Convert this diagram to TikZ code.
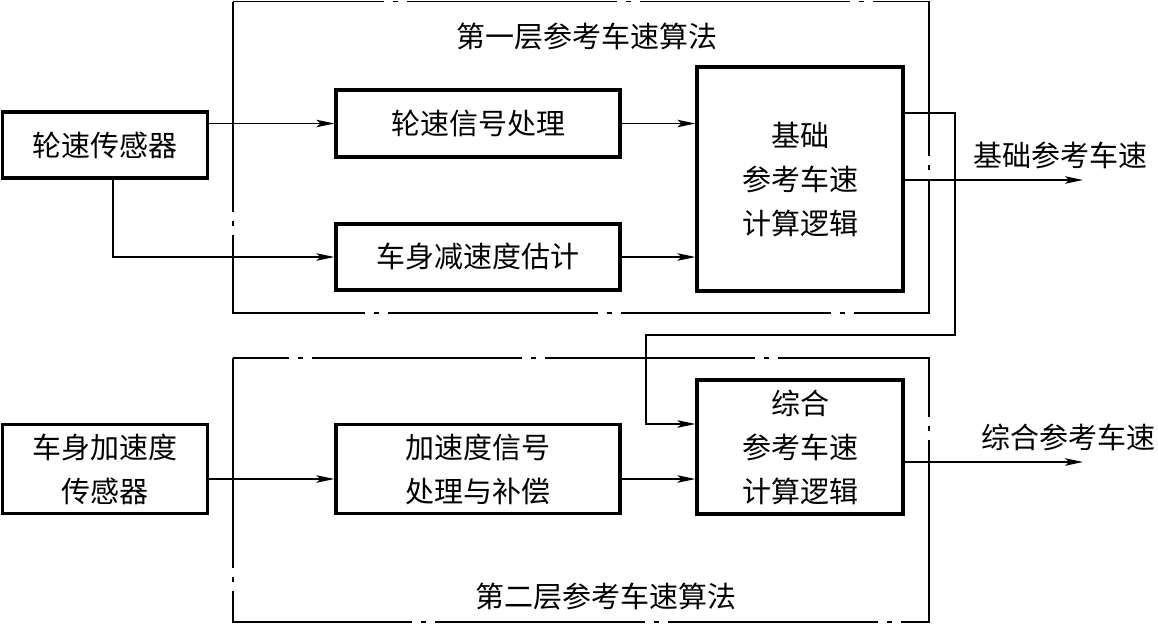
\documentclass[tikz,border=0pt]{standalone}
\usepackage{fontspec}
\newfontfamily\cjk{Noto Sans CJK SC}
\usetikzlibrary{arrows.meta,calc}
\begin{document}
\begin{tikzpicture}[x=1pt,y=-1pt,
  blk/.style={draw,line width=3.2pt,inner sep=0pt,align=center,
    font=\cjk\fontsize{29}{44}\selectfont},
  lbl/.style={inner sep=0pt,font=\cjk\fontsize{29}{44}\selectfont},
  frame/.style={draw,line width=1.4pt,dash pattern=on 210pt off 9pt on 5pt off 9pt},
  arr/.style={line width=1.4pt,-{Stealth[length=18pt,width=7.5pt,inset=4pt]}},
  ln/.style={line width=1.4pt}]
\useasboundingbox (0,0) rectangle (1158,627);
% dash-dot frames
\draw[frame] (233,1.5) rectangle (929,313);
\draw[frame] (233,358) rectangle (929,622);
\node[lbl] (t1) at (587,37) {第一层参考车速算法};
\node[lbl] (t2) at (606,597) {第二层参考车速算法};
% blocks
\node[blk,minimum width=205pt,minimum height=66pt] (ws) at (105,145) {轮速传感器};
\node[blk,minimum width=284pt,minimum height=67pt] (wsp) at (478,123.5) {轮速信号处理};
\node[blk,minimum width=284pt,minimum height=66pt] (bde) at (478,257) {车身减速度估计};
\node[blk,minimum width=206pt,minimum height=224pt] (basic) at (800,179) {基础\\参考车速\\计算逻辑};
\node[blk,minimum width=205pt,minimum height=89pt] (accs) at (105,469) {车身加速度\\传感器};
\node[blk,minimum width=284pt,minimum height=89pt] (acc) at (478,469) {加速度信号\\处理与补偿};
\node[blk,minimum width=206pt,minimum height=134pt] (comp) at (800,447) {综合\\参考车速\\计算逻辑};
% connectors
\draw[arr] (ws.east |- wsp.west) -- (wsp.west);
\draw[arr] (ws.south -| 113,0) |- (bde.west);
\draw[arr] (wsp.east) -- (basic.west |- wsp.east);
\draw[arr] (bde.east) -- (basic.west |- bde.east);
\draw[arr] (accs.east |- 0,479) -- (acc.west |- 0,479);
\draw[arr] (acc.east |- 0,479) -- (comp.west |- 0,479);
% outputs
\coordinate (o1) at (1083,180);
\coordinate (o2) at (1083,462);
\draw[arr] (basic.east |- o1) -- (o1);
\draw[arr] (comp.east |- o2) -- (o2);
\node[lbl] (l1) at (1060,155) {基础参考车速};
\node[lbl] (l2) at (1068,437) {综合参考车速};
% feedback
\coordinate (fbR) at (955,113);
\coordinate (fbL) at (646,335);
\coordinate (fbE) at (comp.west |- 0,424);
\draw[arr] (basic.east |- fbR) -- (fbR) -- (fbR |- fbL) -- (fbL) -- (fbL |- fbE) -- (fbE);
\end{tikzpicture}
\end{document}
